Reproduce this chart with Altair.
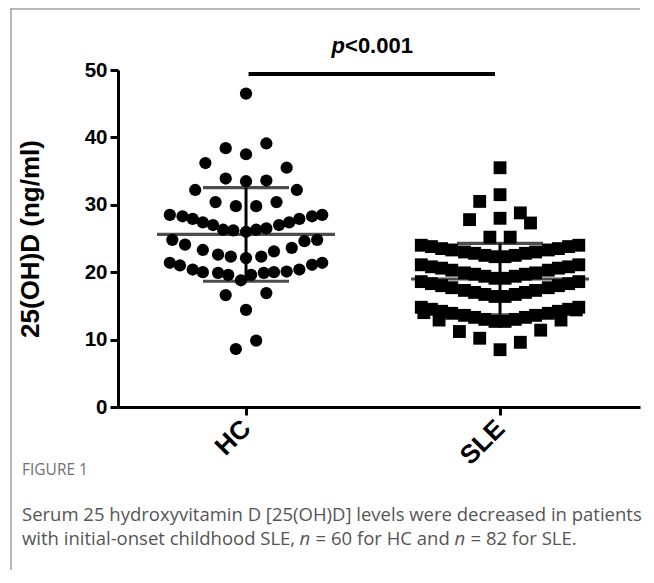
import altair as alt
import pandas as pd

# ---------------- data ----------------
groups = ["HC", "SLE"]
group_centers = [1, 2]

# HC: values (ng/ml) and horizontal scatter offsets (percent of group spacing)
hc_values = [46.5, 38.4, 37.5, 39.1, 36.2, 35.5, 33.9, 33.5, 33.6, 32.2, 32.2,
             30.4, 29.8, 29.8, 30.4,
             28.5, 28.3, 27.9, 27.4, 27.0, 26.3, 26.2, 26.0, 26.3, 26.5, 27.0, 27.4, 27.9, 28.3, 28.5,
             24.8, 24.1, 23.3, 22.6, 22.3, 22.1, 22.3, 23.1, 23.6, 24.6, 24.8,
             21.4, 21.0, 20.4, 20.0, 19.9, 19.6, 18.8, 19.6, 19.9, 20.0, 20.1, 20.4, 21.1, 21.4,
             16.6, 16.9, 14.4, 8.6, 9.85]
hc_offsets = [0, -8, 0, 8, -16, 16, -8, 0, 8, -20, 20,
              -12, -4, 4, 12,
              -30, -25, -21, -17, -13, -9, -5, 0, 4, 8, 13, 17, 21, 26, 30,
              -29, -24, -17, -11, -6, 0, 6, 11, 18, 23, 28,
              -30, -26, -21, -17, -11, -7, -2, 2, 7, 11, 16, 21, 26, 30,
              -8, 8, 0, -4, 4]

# SLE: scattered high values, four chevron-shaped bands, and the low "V"
sle_top_values = [35.5, 31.5, 30.5, 28.8, 28.0, 27.8, 27.3, 25.2, 25.2]
sle_top_offsets = [0, 0, -8, 8, 0, -12, 12, -4, 4]
band_offsets = [-31, -27, -23, -19, -14, -10, -6, -2, 2, 6, 10, 14, 19, 23, 27, 31]
sle_band1 = [24.0, 23.8, 23.5, 23.3, 23.0, 22.8, 22.5, 22.3, 22.3, 22.5, 22.8, 23.0, 23.3, 23.5, 23.8, 24.0]
sle_band2 = [21.1, 20.8, 20.6, 20.3, 19.9, 19.7, 19.4, 19.1, 19.1, 19.4, 19.7, 19.9, 20.3, 20.6, 20.8, 21.1]
sle_band3 = [18.6, 18.3, 18.0, 17.7, 17.3, 17.0, 16.7, 16.4, 16.4, 16.7, 17.0, 17.3, 17.7, 18.0, 18.3, 18.6]
sle_band4 = [14.8, 14.5, 14.2, 13.9, 13.6, 13.3, 13.0, 12.7, 12.7, 13.0, 13.3, 13.6, 13.9, 14.2, 14.5, 14.8]
sle_low_values = [14.0, 12.9, 11.2, 10.2, 8.5, 9.6, 11.4, 12.9, 14.4]
sle_low_offsets = [-30, -24, -16, -8, 0, 8, 16, 24, 30]

sle_values = sle_top_values + sle_band1 + sle_band2 + sle_band3 + sle_band4 + sle_low_values
sle_offsets = sle_top_offsets + band_offsets * 4 + sle_low_offsets

y_ticks = [0, 10, 20, 30, 40, 50]
y_title = "25(OH)D (ng/ml)"
p_parts = ["p", "<0.001"]
sig_from, sig_to, sig_level, p_level = 1.01, 1.98, 49.4, 53.6
caption_head = "FIGURE 1"
caption_line1 = "Serum 25 hydroxyvitamin D [25(OH)D] levels were decreased in patients"
caption_line2 = ["with initial-onset childhood SLE,", "n", "= 60 for HC and", "n", "= 82 for SLE."]

rows = []
for g, c, vals, offs in [(groups[0], group_centers[0], hc_values, hc_offsets),
                         (groups[1], group_centers[1], sle_values, sle_offsets)]:
    for v, o in zip(vals, offs):
        rows.append({"group": g, "center": c, "x": c + o / 100.0, "value": v})
df = pd.DataFrame(rows)

W, H = 522, 337
xscale = alt.Scale(domain=[0.496, 2.551], nice=False, zero=False)
yscale = alt.Scale(domain=[0, 50], nice=False)

label_expr = " : ".join(
    [f"datum.value == {c} ? '{g}'" for c, g in zip(group_centers[:-1], groups[:-1])] + [f"'{groups[-1]}'"]
)

x_axis = alt.Axis(values=group_centers, labelExpr=label_expr, title=None, labelAngle=-45,
                  labelAlign="right", labelBaseline="middle", labelPadding=9, labelFontSize=26,
                  tickSize=8)
y_axis = alt.Axis(values=y_ticks, title=y_title, titleFontSize=26, titleFontWeight="bold",
                  titleFont="Liberation Sans", titlePadding=41, labelPadding=3, tickSize=8,
                  labelFontSize=20.5)

base = alt.Chart(df)

points = base.mark_point(filled=True, opacity=1, color="black", strokeWidth=0).encode(
    x=alt.X("x:Q", scale=xscale, axis=x_axis),
    y=alt.Y("value:Q", scale=yscale, axis=y_axis),
    shape=alt.Shape("group:N", scale=alt.Scale(domain=groups, range=["circle", "square"]), legend=None),
    size=alt.Size("group:N", scale=alt.Scale(domain=groups, range=[150, 165]), legend=None),
)

stats = base.transform_aggregate(
    mean="mean(value)", sd="stdev(value)", groupby=["group", "center"]
).transform_calculate(lo="datum.mean - datum.sd", hi="datum.mean + datum.sd")

mean_line = stats.mark_tick(orient="horizontal", size=178, thickness=3.2, color="black").encode(
    x=alt.X("center:Q", scale=xscale), y=alt.Y("mean:Q", scale=yscale))
sd_rule = stats.mark_rule(strokeWidth=3, color="black").encode(
    x=alt.X("center:Q", scale=xscale), y=alt.Y("lo:Q", scale=yscale), y2="hi:Q")
sd_lo = stats.mark_tick(orient="horizontal", size=86, thickness=3.2, color="black").encode(
    x=alt.X("center:Q", scale=xscale), y=alt.Y("lo:Q", scale=yscale))
sd_hi = stats.mark_tick(orient="horizontal", size=86, thickness=3.2, color="black").encode(
    x=alt.X("center:Q", scale=xscale), y=alt.Y("hi:Q", scale=yscale))

sig_df = pd.DataFrame({"x1": [sig_from], "x2": [sig_to], "y": [sig_level],
                       "xm": [(group_centers[0] + group_centers[1]) / 2], "yt": [p_level]})
sig_bar = alt.Chart(sig_df).mark_rule(strokeWidth=4, color="black").encode(
    x=alt.X("x1:Q", scale=xscale), x2="x2:Q", y=alt.Y("y:Q", scale=yscale))
p_italic = alt.Chart(sig_df).mark_text(text=p_parts[0], font="Liberation Sans", fontSize=22,
                                       fontWeight="bold", fontStyle="italic", align="right",
                                       baseline="middle", dx=-28, color="black").encode(
    x=alt.X("xm:Q", scale=xscale), y=alt.Y("yt:Q", scale=yscale))
p_rest = alt.Chart(sig_df).mark_text(text=p_parts[1], font="Liberation Sans", fontSize=22,
                                     fontWeight="bold", align="left", baseline="middle", dx=-28,
                                     color="black").encode(
    x=alt.X("xm:Q", scale=xscale), y=alt.Y("yt:Q", scale=yscale))

one = pd.DataFrame({"k": [0]})
# thin grey figure frame (top and left edges only), drawn as thin filled strips
frame_top = alt.Chart(one).mark_rect(color="#a0a0a0", strokeWidth=0).encode(
    x=alt.value(-107.75), x2=alt.value(522), y=alt.value(-61.75), y2=alt.value(-60.25))
frame_left = alt.Chart(one).mark_rect(color="#a0a0a0", strokeWidth=0).encode(
    x=alt.value(-107.75), x2=alt.value(-106.25), y=alt.value(-61.75), y2=alt.value(500))

cap_font = "Open Sans"
cap_color = "#555555"
cap_size = 18.5
cap_head = alt.Chart(one).mark_text(text=caption_head, font=cap_font, fontSize=15.5, color="#707070",
                                    align="left", baseline="middle").encode(
    x=alt.value(-96), y=alt.value(400))
cap1 = alt.Chart(one).mark_text(text=caption_line1, font=cap_font, fontSize=cap_size, color=cap_color,
                                align="left", baseline="middle").encode(
    x=alt.value(-96), y=alt.value(445))

seg_x = [-96, 181.6, 197.6, 336.6, 352.6]
cap2_layers = []
for s, sx in zip(caption_line2, seg_x):
    cap2_layers.append(
        alt.Chart(one).mark_text(text=s, font=cap_font, fontSize=cap_size, color=cap_color, align="left",
                                 baseline="middle", fontStyle=("italic" if s == "n" else "normal")).encode(
            x=alt.value(sx), y=alt.value(469)))

chart = alt.layer(
    frame_top, frame_left, points, sd_rule, mean_line, sd_lo, sd_hi, sig_bar, p_italic, p_rest,
    cap_head, cap1, *cap2_layers
).properties(
    width=W, height=H,
    autosize=alt.AutoSizeParams(type="none"),
    padding={"left": 110, "top": 62, "right": 6, "bottom": 168},
).configure_view(stroke=None).configure_axis(
    grid=False, domainColor="black", domainWidth=3, tickColor="black", tickWidth=3,
    labelFont="Liberation Sans", labelFontWeight="bold", labelFontSize=19, labelColor="black",
    titleColor="black",
)

chart.save("out.html", embed_options={"renderer": "svg", "actions": False})
